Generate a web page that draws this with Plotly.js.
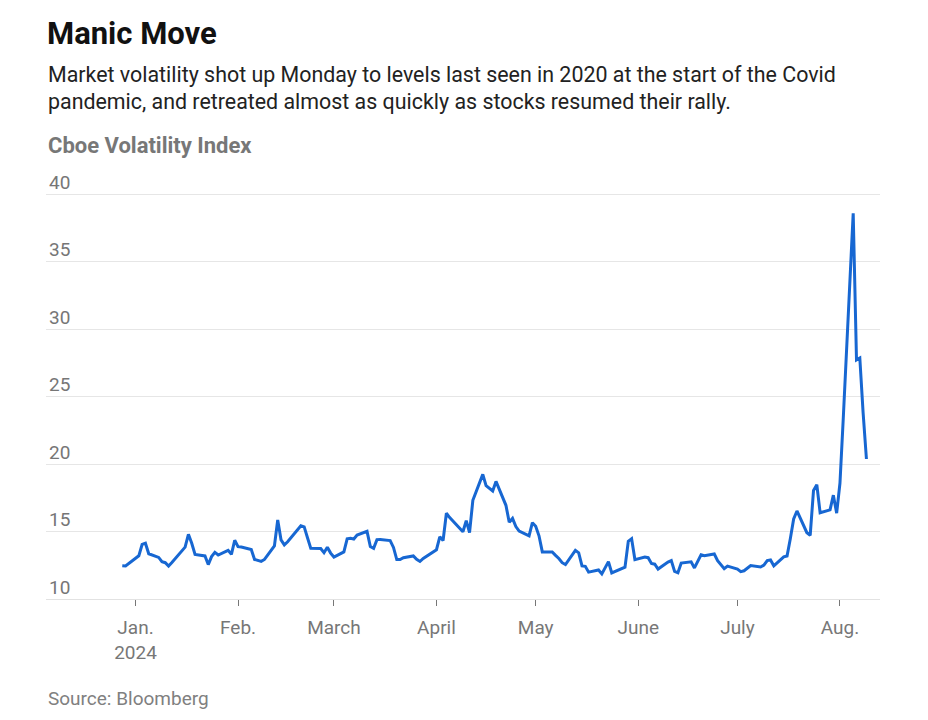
<!DOCTYPE html>
<html>
<head>
<meta charset="utf-8">
<script src="https://cdn.plot.ly/plotly-3.0.1.min.js"></script>
<style>
  html, body { margin: 0; padding: 0; background: #fff; }
  #chart { width: 928px; height: 720px; }
</style>
</head>
<body>
<div id="chart"></div>
<script>
// Cboe Volatility Index, daily closes
const dates = [
  "2023-12-28","2023-12-29",
  "2024-01-02","2024-01-03","2024-01-04","2024-01-05","2024-01-08","2024-01-09","2024-01-10","2024-01-11","2024-01-12",
  "2024-01-16","2024-01-17","2024-01-18","2024-01-19","2024-01-22","2024-01-23","2024-01-24","2024-01-25","2024-01-26",
  "2024-01-29","2024-01-30","2024-01-31","2024-02-01","2024-02-02","2024-02-05","2024-02-06","2024-02-07","2024-02-08","2024-02-09",
  "2024-02-12","2024-02-13","2024-02-14","2024-02-15","2024-02-16","2024-02-20","2024-02-21","2024-02-22","2024-02-23",
  "2024-02-26","2024-02-27","2024-02-28","2024-02-29","2024-03-01","2024-03-04","2024-03-05","2024-03-06","2024-03-07","2024-03-08",
  "2024-03-11","2024-03-12","2024-03-13","2024-03-14","2024-03-15","2024-03-18","2024-03-19","2024-03-20","2024-03-21","2024-03-22",
  "2024-03-25","2024-03-26","2024-03-27","2024-03-28","2024-04-01","2024-04-02","2024-04-03","2024-04-04","2024-04-05",
  "2024-04-08","2024-04-09","2024-04-10","2024-04-11","2024-04-12","2024-04-15","2024-04-16","2024-04-17","2024-04-18","2024-04-19",
  "2024-04-22","2024-04-23","2024-04-24","2024-04-25","2024-04-26","2024-04-29","2024-04-30","2024-05-01","2024-05-02","2024-05-03",
  "2024-05-06","2024-05-07","2024-05-08","2024-05-09","2024-05-10","2024-05-13","2024-05-14","2024-05-15","2024-05-16","2024-05-17",
  "2024-05-20","2024-05-21","2024-05-22","2024-05-23","2024-05-24","2024-05-28","2024-05-29","2024-05-30","2024-05-31",
  "2024-06-03","2024-06-04","2024-06-05","2024-06-06","2024-06-07","2024-06-10","2024-06-11","2024-06-12","2024-06-13","2024-06-14",
  "2024-06-17","2024-06-18","2024-06-20","2024-06-21","2024-06-24","2024-06-25","2024-06-26","2024-06-27","2024-06-28",
  "2024-07-01","2024-07-02","2024-07-03","2024-07-05","2024-07-08","2024-07-09","2024-07-10","2024-07-11","2024-07-12",
  "2024-07-15","2024-07-16","2024-07-17","2024-07-18","2024-07-19","2024-07-22","2024-07-23","2024-07-24","2024-07-25","2024-07-26",
  "2024-07-29","2024-07-30","2024-07-31","2024-08-01","2024-08-02","2024-08-05","2024-08-06","2024-08-07","2024-08-08","2024-08-09"
];
const vix = [
  12.47,12.45,
  13.20,14.04,14.13,13.35,13.08,12.76,12.69,12.44,12.70,
  13.84,14.79,14.13,13.30,13.19,12.55,13.14,13.45,13.26,
  13.60,13.31,14.35,13.88,13.85,13.67,12.93,12.83,12.79,12.93,
  13.93,15.85,14.38,14.01,14.24,15.42,15.34,14.54,13.75,
  13.74,13.43,13.84,13.40,13.11,13.49,14.46,14.50,14.44,14.74,
  15.01,13.88,13.75,14.40,14.41,14.33,13.82,12.92,12.92,13.06,
  13.19,12.94,12.78,13.01,13.65,14.61,14.33,16.35,16.03,
  15.19,14.98,15.80,14.91,17.31,19.23,18.40,18.21,18.00,18.71,
  16.94,15.69,15.97,15.37,15.03,14.67,15.65,15.39,14.68,13.49,
  13.49,13.23,13.00,12.69,12.55,13.60,13.42,12.45,12.42,11.99,
  12.15,11.86,12.29,12.77,11.93,12.36,14.28,14.47,12.92,
  13.11,13.06,12.63,12.58,12.22,12.74,12.85,12.04,11.94,12.66,
  12.75,12.30,13.28,13.20,13.33,12.84,12.55,12.24,12.44,
  12.22,12.03,12.09,12.48,12.37,12.51,12.85,12.89,12.46,
  13.12,13.19,14.48,15.93,16.52,14.91,14.72,18.04,18.46,16.39,
  16.60,17.69,16.36,18.59,23.39,38.57,27.71,27.85,23.79,20.37
];
const tickDates = ["2024-01-01","2024-02-01","2024-03-01","2024-04-01","2024-05-01","2024-06-01","2024-07-01","2024-08-01"];
const tickLabels = ["Jan.<br>2024","Feb.","March","April","May","June","July","Aug."];
const yTicks = [10,15,20,25,30,35,40];

const FONT = "Roboto, 'Noto Sans', sans-serif";
const yMin = 10, yMax = 42;
const plotBottom = 599;
const unitPx = 13.5;
const plotTop = Math.round(plotBottom - (yMax - yMin) * unitPx);
const ph = plotBottom - plotTop;
const py = (pix) => (plotBottom - pix) / ph;

const trace = {
  x: dates, y: vix, type: "scatter", mode: "lines",
  line: { color: "#1767d2", width: 3, shape: "linear" },
  hoverinfo: "skip"
};

const layout = {
  width: 928, height: 720,
  paper_bgcolor: "#ffffff", plot_bgcolor: "#ffffff",
  margin: { l: 46, r: 48, t: plotTop, b: 720 - plotBottom, pad: 0 },
  showlegend: false,
  font: { family: FONT, color: "#767676" },
  xaxis: {
    type: "date",
    range: ["2023-12-04 22:30", "2024-08-13 02:30"],
    tickmode: "array", tickvals: tickDates, ticktext: tickLabels,
    ticks: "outside", ticklen: 6, tickwidth: 1, tickcolor: "#777777",
    ticklabelstandoff: 5,
    tickfont: { size: 19, color: "#777777", family: FONT },
    showgrid: false, zeroline: false,
    showline: true, linecolor: "#e2e2e2", linewidth: 1,
    fixedrange: true
  },
  yaxis: {
    range: [yMin, yMax],
    tickmode: "array", tickvals: yTicks,
    ticklabelposition: "inside",
    ticklabelshift: -12,
    ticklabelstandoff: 0,
    ticks: "",
    tickfont: { size: 19, color: "#767676", family: FONT },
    showgrid: true, gridcolor: "#e6e6e6", gridwidth: 1,
    zeroline: false, showline: false,
    fixedrange: true
  },
  annotations: [
    { text: "<b>Manic Move</b>", xref: "paper", yref: "paper", x: -0.001, y: py(34),
      xanchor: "left", yanchor: "middle", showarrow: false,
      font: { family: FONT, size: 31, color: "#111111" } },
    { text: "Market volatility shot up Monday to levels last seen in 2020 at the start of the Covid", xref: "paper", yref: "paper", x: 0, y: py(74),
      xanchor: "left", yanchor: "middle", showarrow: false,
      font: { family: FONT, size: 21.4, color: "#222222" } },
    { text: "pandemic, and retreated almost as quickly as stocks resumed their rally.", xref: "paper", yref: "paper", x: 0, y: py(101),
      xanchor: "left", yanchor: "middle", showarrow: false,
      font: { family: FONT, size: 21.4, color: "#222222" } },
    { text: "<b>Cboe Volatility Index</b>", xref: "paper", yref: "paper", x: 0, y: py(145),
      xanchor: "left", yanchor: "middle", showarrow: false,
      font: { family: FONT, size: 22, color: "#777777" } },
    { text: "Source: Bloomberg", xref: "paper", yref: "paper", x: 0, y: py(698),
      xanchor: "left", yanchor: "middle", showarrow: false,
      font: { family: FONT, size: 19, color: "#808080" } }
  ]
};

Plotly.newPlot("chart", [trace], layout, { displayModeBar: false, staticPlot: true });
</script>
</body>
</html>
